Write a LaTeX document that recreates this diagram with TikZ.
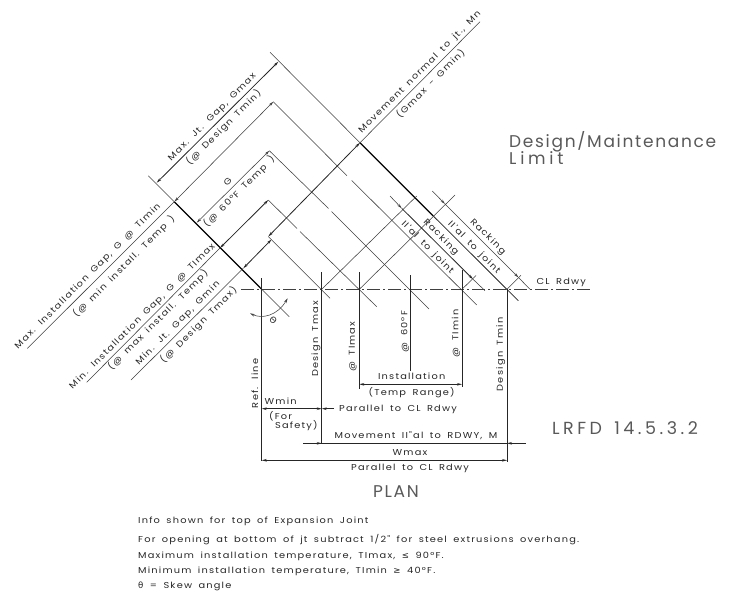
\documentclass[tikz,border=0pt]{standalone}
\usepackage{fontspec}
\setmainfont{DejaVu Sans}
\newfontfamily\cadfont[LetterSpace=14, FakeStretch=1.14, WordSpace=1.7]{Poppins}
\newfontfamily\cadbigfont[LetterSpace=10, WordSpace=1.5]{Poppins}
\newfontfamily\symfont{DejaVu Sans}
\usetikzlibrary{arrows.meta}
\tikzset{
	thinline/.style={line width=0.55pt, draw=black!75},
	midline/.style={line width=0.8pt, draw=black!85},
	heavyline/.style={line width=1.2pt, draw=black},
	cadtext/.style={font=\cadfont\fontsize{8.6}{9}\selectfont, inner sep=0pt, text=black!85},
	cadup/.style={cadtext, rotate=45},
	caddown/.style={cadtext, rotate=-45},
	cadvert/.style={cadtext, rotate=90},
	cadnote/.style={cadtext, anchor=west},
	cadbig/.style={font=\cadbigfont\fontsize{17}{17}\selectfont, inner sep=0pt, text=black!65}
}

\begin{document}
\begin{tikzpicture}[x=1pt, y=-1pt, >={Stealth[length=5pt,width=2.6pt]}]
	\useasboundingbox (0, 0) rectangle (744, 600);
	% centerline
	\draw [thinline, dash pattern=on 13pt off 3pt on 2pt off 3pt] (241, 289.3) -- (590, 289.3);
	% joint lines
	\draw [thinline] (148.3, 175.7) -- (174.3, 201.7);
	\draw [heavyline] (174.3, 201.7) -- (261.7, 289.3);
	\draw [thinline] (261.7, 289.3) -- (289.3, 316.7);
	\draw [thinline] (270, 52.3) -- (360, 142.7);
	\draw [heavyline] (360, 142.7) -- (433.3, 216);
	\draw [midline] (433.3, 216) -- (518.3, 300.7);
	\draw [thinline] (273.3, 101.7) -- (347, 175.7);
	\draw [thinline] (351.7, 180.4) -- (476.7, 305);
	\draw [thinline] (269.3, 150.7) -- (328.5, 208.5);
	\draw [thinline] (331.5, 211.5) -- (429, 309);
	\draw [thinline] (268.3, 200) -- (297, 228.5);
	\draw [thinline] (300, 231.5) -- (376.7, 306.7);
	\draw [thinline] (268.3, 236.5) -- (330, 298.3);
	% gap dimensions
	\draw [midline, <->] (156.7, 182.7) -- (278.3, 61.7);
	\draw [thinline, <->] (174.3, 201.7) -- (273.3, 101.7);
	\draw [thinline] (27.3, 348.5) -- (174.3, 201.7);
	\draw [thinline, <->] (196.7, 222.7) -- (269.3, 150.7);
	\draw [midline, <->] (220, 248) -- (268.3, 200);
	\draw [thinline] (86.7, 382.3) -- (220, 248);
	\draw [midline, <->] (243.3, 268.3) -- (271.5, 239.5);
	\draw [thinline] (131, 380) -- (243.3, 268.3);
	\draw [midline, <->] (268.3, 236.5) -- (360, 142.7);
	\draw [thinline] (360, 142.7) -- (480, 21.7);
	% rise from centerline
	\draw [thinline] (321.7, 289.3) -- (416.7, 196);
	\draw [thinline] (359.3, 289.3) -- (455, 195);
	\draw [thinline] (462, 289.3) -- (476, 275.5);
	\draw [thinline] (507, 289.3) -- (521, 275.3);
	% racking
	\draw [thinline, ->] (390, 196) -- (401.7, 208.3);
	\draw [midline, <-] (473, 279.2) -- (401.7, 208.3);
	\draw [thinline] (473, 279.2) -- (485, 290.7);
	\draw [thinline, ->] (432.3, 191) -- (445, 204);
	\draw [thinline, <-] (518.5, 277.5) -- (445, 204);
	\draw [thinline] (518.5, 277.5) -- (530, 289.3);
	% plan verticals
	\draw [midline] (261.7, 278) -- (261.7, 461);
	\draw [midline] (321.7, 272) -- (321.7, 443.3);
	\draw [midline] (359.3, 272) -- (359.3, 389);
	\draw [midline] (410.3, 275) -- (410.3, 371);
	\draw [midline] (462, 270) -- (462, 387);
	\draw [midline] (507, 289.3) -- (507, 462);
	% plan dimensions
	\draw [midline, <->] (359.3, 384.3) -- (462, 384.3);
	\draw [midline, <->] (261.7, 408.7) -- (321.7, 408.7);
	\draw [midline, ->] (334, 408.7) -- (321.7, 408.7);
	\draw [midline] (303.3, 443.3) -- (507, 443.3);
	\draw [midline, ->] (303.3, 443.3) -- (321.7, 443.3);
	\draw [midline, ->] (525.7, 443.3) -- (507, 443.3);
	\draw [midline, <->] (261.7, 460.3) -- (507, 460.3);
	% skew angle
	\draw [thinline, <->] (250, 313.3) .. controls (262, 319) and (277, 316) .. (287.7, 298.3);
	% labels
	\node (gmaxtop) [cadup] at (212.5, 117.5) {Max. Jt. Gap, Gmax};
	\node (gmaxsub) [cadup] at (223.7, 127.5) {(@ Design Tmin)};
	\node (gmid) [cadup] at (227.7, 181.7) {G};
	\node (gmidsub) [cadup] at (239, 191.7) {(@ 60°F Temp )};
	\node (gmintop) [cadup] at (88, 276.5) {Max. Installation Gap, G @ TImin};
	\node (gminsub) [cadup] at (124, 266.5) {(@ min install. Temp )};
	\node (gaptop) [cadup] at (142.5, 316.7) {Min. Installation Gap, G @ TImax};
	\node (gapsub) [cadup] at (158, 320) {(@ max install. Temp)};
	\node (jttop) [cadup] at (178, 323.5) {Min. Jt. Gap, Gmin};
	\node (jtsub) [cadup] at (198.7, 325) {(@ Design Tmax)};
	\node (movetop) [cadup] at (420, 72.5) {Movement normal to jt., Mn};
	\node (movesub) [cadup] at (430.5, 83.3) {(Gmax - Gmin)};
	\node (rackone) [caddown] at (440.8, 237.2) {Racking};
	\node (parone) [caddown] at (427.5, 247.5) {II'al to joint};
	\node (racktwo) [caddown] at (487.7, 237) {Racking};
	\node (partwo) [caddown] at (474, 247.5) {II'al to joint};
	\node (clname) [cadtext] at (561.3, 282.3) {CL Rdwy};
	\node (limita) [cadbig, anchor=west] at (509, 141.7) {Design/Maintenance};
	\node (limitb) [cadbig, anchor=west] at (509, 158.5) {\addfontfeature{LetterSpace=22}Limit};
	\node (refname) [cadvert] at (255, 383.3) {Ref. line};
	\node (tmaxname) [cadvert] at (316, 338.8) {Design Tmax};
	\node (timaxname) [cadvert] at (352.7, 346.7) {@ TImax};
	\node (sixtyname) [cadvert] at (405, 331.7) {@ 60°F};
	\node (timinname) [cadvert] at (456, 333.3) {@ TImin};
	\node (tminname) [cadvert] at (500.7, 354.3) {Design Tmin};
	\node (instname) [cadtext] at (411.7, 376.7) {Installation};
	\node (rangename) [cadtext] at (411.7, 392.3) {(Temp Range)};
	\node (wminname) [cadtext] at (280.7, 401) {Wmin};
	\node (safea) [cadtext, anchor=west] at (269, 416.7) {(For};
	\node (safeb) [cadtext, anchor=west] at (275, 426) {Safety)};
	\node (parmin) [cadtext] at (398, 409.3) {Parallel to CL Rdwy};
	\node (movename) [cadtext] at (416, 436) {Movement II"al to RDWY, M};
	\node (wmaxname) [cadtext] at (410, 452.7) {Wmax};
	\node (parmax) [cadtext] at (410, 468.7) {Parallel to CL Rdwy};
	\node (theta) [cadtext, rotate=-40] at (273.3, 320.5) {\symfont Θ};
	\node (planname) [cadbig] at (396, 491.7) {PLAN};
	\node (lrfd) [cadbig, font=\cadbigfont\fontsize{17.5}{17.5}\selectfont\addfontfeature{LetterSpace=20}] at (625, 428) {LRFD 14.5.3.2};
	% notes
	\node (notea) [cadnote] at (138, 521.7) {Info shown for top of Expansion Joint};
	\node (noteb) [cadnote] at (138, 539.3) {For opening at bottom of jt subtract 1/2" for steel extrusions overhang.};
	\node (notec) [cadnote] at (138, 556) {Maximum installation temperature, TImax, {\symfont ≤} 90°F.};
	\node (noted) [cadnote] at (138, 571.7) {Minimum installation temperature, TImin {\symfont ≥} 40°F.};
	\node (notee) [cadnote] at (138, 586) {{\symfont θ} = Skew angle};
\end{tikzpicture}
\end{document}
